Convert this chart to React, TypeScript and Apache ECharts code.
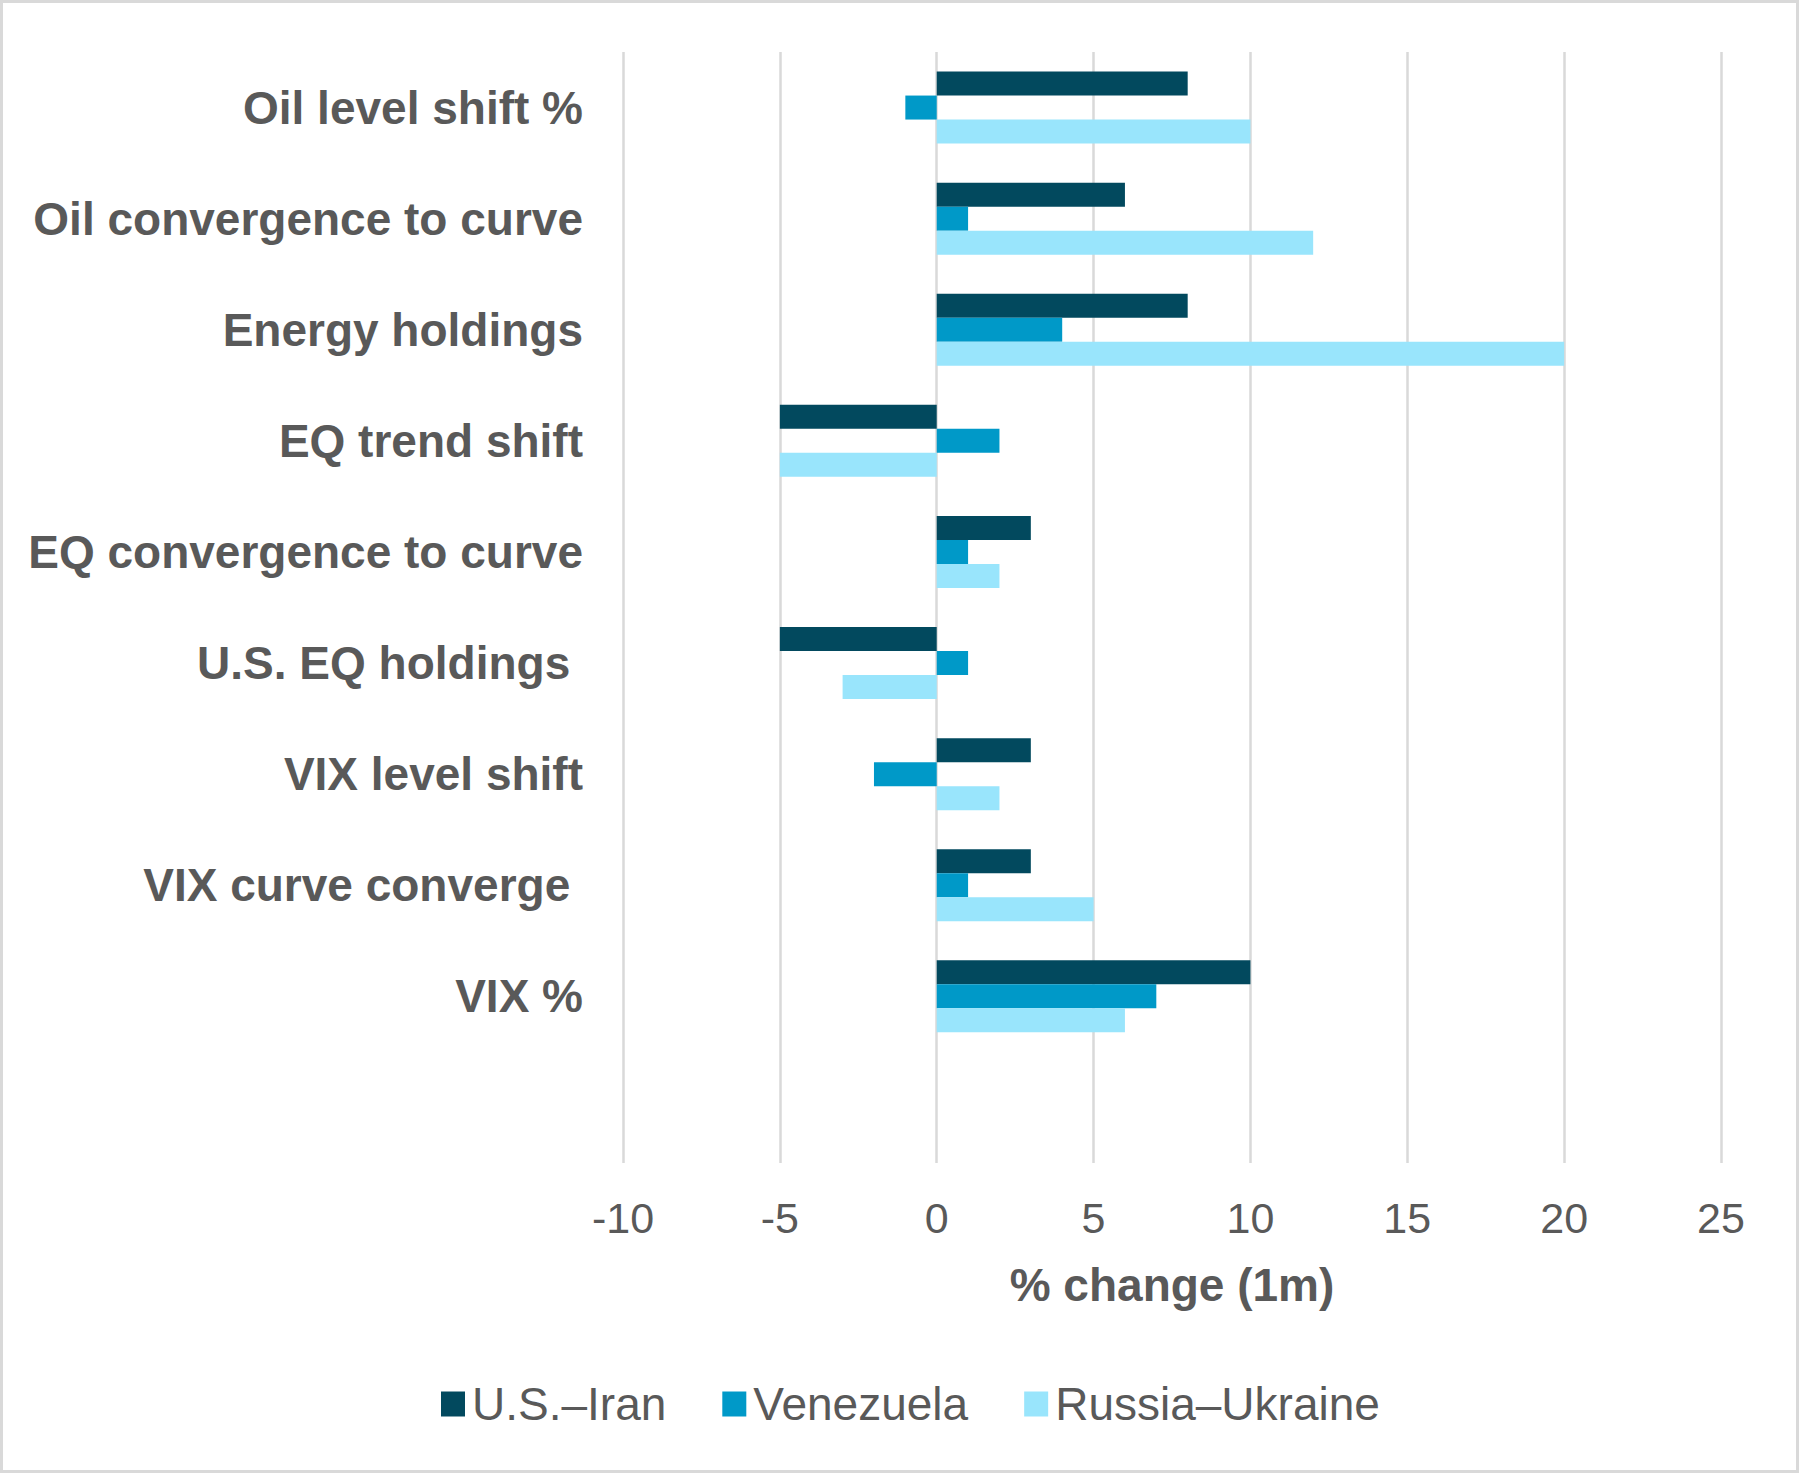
import { useRef, useEffect } from 'react'
import * as echarts from 'echarts'

const categories = [
  'Oil level shift %',
  'Oil convergence to curve',
  'Energy holdings',
  'EQ trend shift',
  'EQ convergence to curve',
  'U.S. EQ holdings ',
  'VIX level shift',
  'VIX curve converge ',
  'VIX %',
  '',
]

const seriesNames = ['U.S.–Iran', 'Venezuela', 'Russia–Ukraine']
const iranValues = [8, 6, 8, -5, 3, -5, 3, 3, 10, null]
const venezuelaValues = [-1, 1, 4, 2, 1, 1, -2, 1, 7, null]
const russiaValues = [10, 12, 20, -5, 2, -3, 2, 5, 6, null]
const seriesColors = ['#02495E', '#0099C8', '#99E5FC']

const xTicks = { min: -10, max: 25, interval: 5 }

const FONT = '"Liberation Sans", Arial, sans-serif'
const TEXT_COLOR = '#595959'
const GRID_COLOR = '#d9d9d9'

export default function App() {
  const chartRef = useRef<HTMLDivElement>(null)

  useEffect(() => {
    if (!chartRef.current) return
    const chart = echarts.init(chartRef.current, undefined, { renderer: 'svg' })

    const valueSets = [iranValues, venezuelaValues, russiaValues]

    const option: echarts.EChartsOption = {
      animation: false,
      backgroundColor: '#ffffff',
      textStyle: { fontFamily: FONT },
      grid: { left: 620, right: 75, top: 49, bottom: 307, containLabel: false },
      legend: {
        data: seriesNames,
        left: 433,
        top: 1371,
        itemWidth: 24,
        itemHeight: 25,
        itemGap: 56,
        icon: 'rect',
        textStyle: {
          fontFamily: FONT,
          fontSize: 46,
          color: TEXT_COLOR,
          padding: [0, 0, 0, 2],
          lineHeight: 50,
        },
      },
      xAxis: {
        type: 'value',
        min: xTicks.min,
        max: xTicks.max,
        interval: xTicks.interval,
        name: '% change (1m)',
        nameLocation: 'middle',
        nameGap: 99,
        nameTextStyle: {
          fontFamily: FONT,
          fontSize: 46,
          fontWeight: 'bold',
          color: TEXT_COLOR,
        },
        axisLine: { show: false },
        axisTick: { show: false },
        axisLabel: {
          fontFamily: FONT,
          fontSize: 43,
          color: TEXT_COLOR,
          margin: 33,
        },
        splitLine: { show: true, lineStyle: { color: GRID_COLOR, width: 2.5 } },
      },
      yAxis: {
        type: 'category',
        data: categories,
        inverse: true,
        axisLine: { show: false },
        axisTick: { show: false },
        splitLine: { show: false },
        axisLabel: {
          fontFamily: FONT,
          fontSize: 46,
          fontWeight: 'bold',
          color: TEXT_COLOR,
          margin: 40,
          interval: 0,
        },
      },
      series: seriesNames.map((name, i) => ({
        name,
        type: 'bar',
        data: valueSets[i],
        barWidth: 24,
        barGap: '0%',
        itemStyle: { color: seriesColors[i] },
      })) as echarts.SeriesOption[],
    }

    chart.setOption(option, true)
    return () => {
      chart.dispose()
    }
  }, [])

  return (
    <div
      style={{
        position: 'absolute',
        left: 0,
        top: 0,
        width: 1799,
        height: 1473,
        boxSizing: 'border-box',
        border: `3px solid ${GRID_COLOR}`,
        background: '#fff',
      }}
    >
      <div ref={chartRef} style={{ width: 1793, height: 1467 }} />
    </div>
  )
}
